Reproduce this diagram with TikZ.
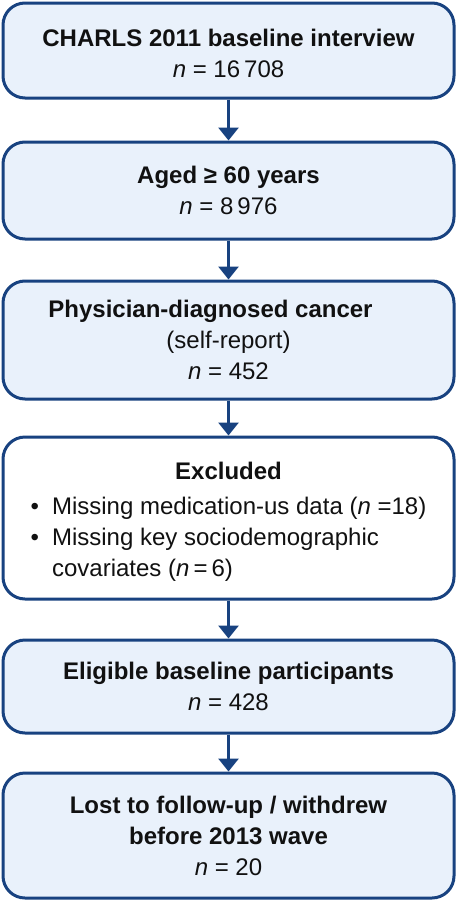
\documentclass[tikz,border=0pt]{standalone}
\usepackage{fontspec}
\setmainfont{Liberation Sans}
\usepackage{xcolor}
\usepackage{tikz}
\usetikzlibrary{arrows.meta, positioning}
\definecolor{flowblue}{RGB}{24,66,128}
\definecolor{flowfill}{RGB}{233,241,251}
\definecolor{flowtext}{RGB}{17,17,17}
\newcommand{\nn}{{\itshape n}}

\begin{document}
\begin{tikzpicture}[x=1pt, y=1pt, >={Triangle[width=20pt, length=13pt]},
    font=\fontsize{24}{31}\selectfont,
    box/.style={draw=flowblue, line width=3pt, fill=flowfill, text=flowtext,
      rounded corners=22pt, minimum width=451pt, align=center, inner sep=0pt},
    flow/.style={->, line width=3pt, flowblue}]
    \useasboundingbox (0,0) rectangle (457,-902);
    % 各步骤框
    \node[box, minimum height=95pt] (base) at (228.5,-50.5)
        {\rule{0pt}{23pt}\textbf{CHARLS 2011 baseline interview}\\\nn{} = 16\,708};
    \node[box, minimum height=97pt, below=41pt of base] (aged)
        {\textbf{Aged ≥ 60 years}\\\nn{} = 8\,976};
    \node[box, minimum height=118pt, below=39pt of aged] (cancer)
        {\textbf{Physician-diagnosed cancer}\hspace*{36pt}\\(self-report)\\\nn{} = 452};
    \node[box, fill=white, minimum height=162pt, below=35pt of cancer] (excl)
        {\rule{0pt}{30pt}\textbf{Excluded}\\[12pt]
         \begin{tabular}{@{}l@{\hspace{13pt}}l@{}}
           \textbullet & Missing medication-us data (\nn{} =18)\\
           \textbullet & Missing key sociodemographic\\
                       & covariates (\nn\,=\,6)
         \end{tabular}};
    \node[box, minimum height=93pt, below=38pt of excl] (elig)
        {\textbf{Eligible baseline participants}\\\nn{} = 428};
    \node[box, minimum height=125pt, below=37pt of elig] (lost)
        {\textbf{Lost to follow-up / withdrew}\\\textbf{before 2013 wave}\\\nn{} = 20};
    % 箭头
    \draw[flow] (base) -- (aged);
    \draw[flow] (aged) -- (cancer);
    \draw[flow] (cancer) -- (excl);
    \draw[flow] (excl) -- (elig);
    \draw[flow] (elig) -- (lost);
\end{tikzpicture}
\end{document}
